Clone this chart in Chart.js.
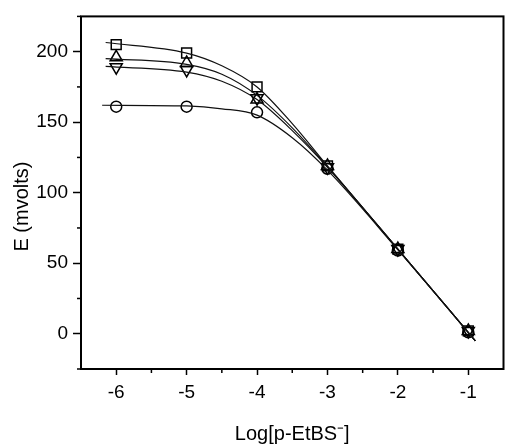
<!DOCTYPE html>
<html>
<head>
<meta charset="utf-8">
<script src="https://cdn.jsdelivr.net/npm/chart.js@4"></script>
<style>
  html, body { margin: 0; padding: 0; background: #fff; overflow: hidden; }
  #wrap { width: 512px; height: 446px; }
</style>
</head>
<body>
<div id="wrap"><canvas id="chart"></canvas></div>
<script>
// MEASURED POINTS

const logConc = [-6, -5, -4, -3, -2, -1];
const eSquare = [205, 199, 175, 119, 60, 2];
const eTriUp = [196, 192, 166, 119, 60, 2];
const eTriDown = [189, 187, 167, 118, 60, 2];
const eCircle = [161, 161, 157, 117, 59, 1];

// FITTED CURVES

const fitX = [-6.15, -5, -4.5, -4, -3.5, -3, -2, -0.9];
const fitSquare = [206.5, 199, 190, 175, 149, 119, 60, -5];
const fitTriUp = [195, 191, 184, 169, 146, 118.5, 60, -5];
const fitTriDown = [189.5, 185.5, 179, 166, 144, 118, 60, -5];
const fitCircleX = [-6.2, -5, -4.5, -4, -3.5, -3, -2, -0.9];
const fitCircle = [162, 161.5, 159.5, 155, 139, 116, 59.5, -5];

// AXIS TICKS

const xMajor = [-6, -5, -4, -3, -2, -1];
const xMinor = [-5.5, -4.5, -3.5, -2.5, -1.5];
const yMajor = [0, 50, 100, 150, 200];
const yMinor = [-25, 25, 75, 125, 175, 225];

const TICK_FONT = { family: "'Liberation Sans', Arial, sans-serif", size: 19 };
const TITLE_FONT = { family: "'Liberation Sans', Arial, sans-serif", size: 20 };

function toXY(xs, ys) {
	return xs.map((x, i) => ({ x: x, y: ys[i] }));
}

function curve(xs, ys) {
	return {
		type: 'line',
		data: toXY(xs, ys),
		borderColor: '#111',
		borderWidth: 1.2,
		pointRadius: 0,
		fill: false,
		cubicInterpolationMode: 'monotone',
	};
}

function marks(ys, style, radius, rotation) {
	return {
		type: 'scatter',
		data: toXY(logConc, ys),
		pointStyle: style,
		pointRadius: radius,
		pointRotation: rotation || 0,
		borderColor: '#000',
		backgroundColor: 'rgba(0,0,0,0)',
		pointBorderWidth: 1.5,
	};
}

// frame + minor ticks
const framePlugin = {
	id: 'frame',
	afterDraw(chart) {
		const { ctx, chartArea: a, scales } = chart;
		ctx.save();
		ctx.strokeStyle = '#000';
		ctx.lineWidth = 1.5;
		xMinor.forEach(v => {
			const px = scales.x.getPixelForValue(v);
			ctx.beginPath();
			ctx.moveTo(px, a.bottom);
			ctx.lineTo(px, a.bottom + 4);
			ctx.stroke();
		});
		yMinor.forEach(v => {
			const py = scales.y.getPixelForValue(v);
			ctx.beginPath();
			ctx.moveTo(a.left - 4, py);
			ctx.lineTo(a.left, py);
			ctx.stroke();
		});
		ctx.lineWidth = 2;
		ctx.strokeRect(a.left, a.top, a.right - a.left, a.bottom - a.top);
		ctx.restore();
	}
};

new Chart(document.getElementById('chart'), {
	type: 'scatter',
	data: {
		datasets: [
			curve(fitX, fitSquare),
			curve(fitX, fitTriUp),
			curve(fitX, fitTriDown),
			curve(fitCircleX, fitCircle),
			marks(eSquare, 'rect', 7),
			marks(eTriUp, 'triangle', 7),
			marks(eTriDown, 'triangle', 7, 180),
			marks(eCircle, 'circle', 5.5),
		]
	},
	options: {
		responsive: true,
		maintainAspectRatio: false,
		animation: false,
		layout: { padding: { left: 0, top: 12, right: 5, bottom: 0 } },
		plugins: {
			legend: { display: false },
			tooltip: { enabled: false },
		},
		scales: {
			x: {
				type: 'linear',
				min: -6.5,
				max: -0.5,
				afterBuildTicks: s => { s.ticks = xMajor.map(v => ({ value: v })); },
				afterFit: s => { s.height = 77; },
				grid: { drawOnChartArea: false, drawTicks: true, tickLength: 6, tickColor: '#000', tickWidth: 1.5 },
				border: { display: false },
				ticks: { color: '#000', font: TICK_FONT, padding: 6, maxRotation: 0 },
				title: { display: true, text: 'Log[p-EtBS⁻]', color: '#000', font: TITLE_FONT, padding: { top: 0, bottom: 0 } },
			},
			y: {
				type: 'linear',
				min: -25,
				max: 225,
				afterBuildTicks: s => { s.ticks = yMajor.map(v => ({ value: v })); },
				afterFit: s => { s.width = 81; },
				grid: { drawOnChartArea: false, drawTicks: true, tickLength: 8, tickColor: '#000', tickWidth: 1.5 },
				border: { display: false },
				ticks: { color: '#000', font: TICK_FONT, padding: 5 },
				title: { display: true, text: 'E (mvolts)     ', color: '#000', font: TITLE_FONT, padding: { top: 10, bottom: 0 } },
			},
		},
	},
	plugins: [framePlugin],
});
</script>
</body>
</html>
